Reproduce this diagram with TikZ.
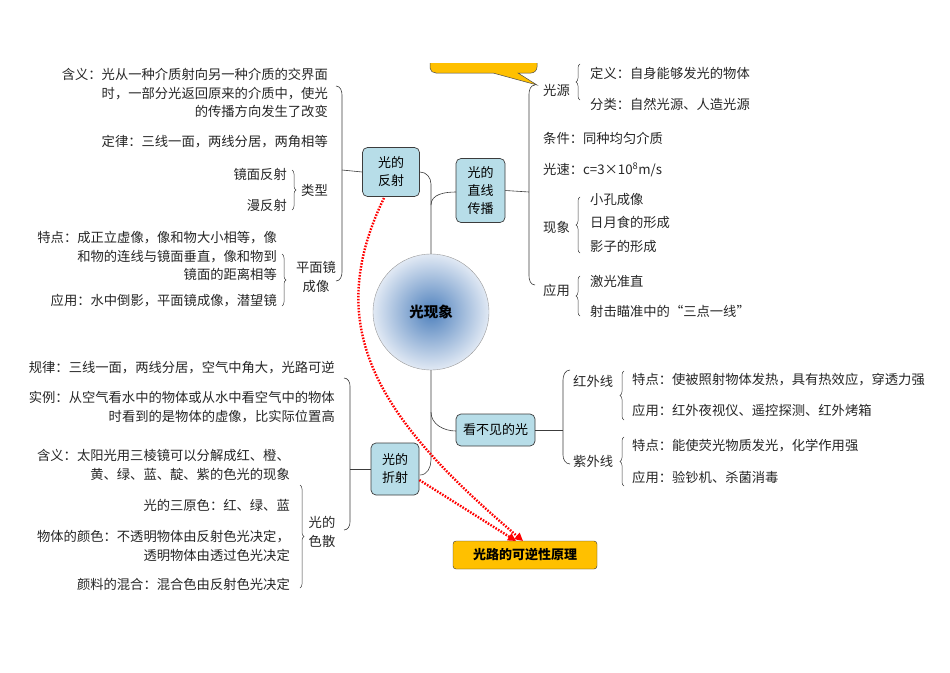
\documentclass[tikz,border=0pt]{standalone}
\usepackage{fontspec}
\setmainfont{Noto Sans CJK SC}
\usetikzlibrary{decorations.pathreplacing,arrows.meta}
\definecolor{boxblue}{RGB}{183,221,232}
\definecolor{gold}{RGB}{255,192,0}
\definecolor{lineg}{RGB}{60,60,60}
\tikzset{
  t/.style={font=\fontsize{13.3}{18.5}\selectfont,inner sep=0pt,text=black!85},
  tr/.style={t,anchor=east,align=right},
  tl/.style={t,anchor=west,align=left},
  topic/.style={draw=lineg,fill=boxblue,rounded corners=5pt,line width=0.7pt,font=\fontsize{13}{18}\selectfont,align=center,inner sep=2pt},
  conn/.style={draw=lineg,line width=0.6pt},
  br/.style={draw=lineg,line width=0.5pt,decorate,decoration={brace,amplitude=4pt}},
  redarr/.style={draw=red,line width=2.4pt,dash pattern=on 1.6pt off 1.4pt,-{Triangle[length=8pt,width=8pt]}},
}
\begin{document}
\begin{tikzpicture}[x=1pt,y=-1pt]
\useasboundingbox (0,0) rectangle (950,672);
% callout
\fill[gold,draw=black!70,line width=0.5pt] (430,63) -- (430,68) to[out=-90,in=180] (436,73) -- (493,73) -- (537,85) -- (518,73) -- (531,73) to[out=0,in=-90] (537,67) -- (537,63);
% center
\shade[inner color={rgb,255:red,79;green,129;blue,189},outer color={rgb,255:red,225;green,233;blue,244},draw=black!40] (431,312) circle (58);
\node[font=\fontsize{14.5}{16}\selectfont\bfseries] (center) at (431,312) {光现象};
\coordinate (ctop) at (431,254);
\coordinate (cbot) at (431,370);
% topics
\node[topic,minimum width=57pt,minimum height=49pt] (fs) at (391,172) {光的\\反射};
\node[topic,minimum width=49pt,minimum height=64pt] (zx) at (480.5,190.5) {光的\\直线\\传播};
\node[topic,minimum width=79pt,minimum height=32pt] (kb) at (495.5,430) {看不见的光};
\node[topic,minimum width=48pt,minimum height=52pt] (zs) at (395,469) {光的\\折射};
\node[draw=black!80,fill=gold,rounded corners=3pt,minimum width=144pt,minimum height=28pt,font=\fontsize{13}{14}\selectfont\bfseries] (kn) at (525,555) {光路的可逆性原理};
% trunk connectors
\draw[conn] (ctop) -- (431,205) to[out=90,in=180] (456,192);
\draw[conn] (431,205) -- (431,184) to[out=90,in=0] (420,172);
\draw[conn] (cbot) -- (431,412) to[out=-90,in=180] (456,431);
\draw[conn] (431,412) -- (431,460) to[out=-90,in=0] (420,475);
% reflection bracket
\draw[conn] (336,86) to[out=0,in=90] (342,95) -- (342,272) to[out=-90,in=0] (336,281);
\draw[conn] (342,170) -- (fs.west);
\node[tr] (r1) at (328,93) {含义：光从一种介质射向另一种介质的交界面\\时，一部分光返回原来的介质中，使光\\的传播方向发生了改变};
\node[tr] (r2) at (328,142) {定律：三线一面，两线分居，两角相等};
\node[tl] (lx) at (301,190) {类型};
\node[tr] (r3) at (287,174) {镜面反射};
\node[tr] (r4) at (287,205) {漫反射};
\draw[br] (292,170) -- (292,210);
\node[t,align=center] (pm) at (316,277) {平面镜\\成像};
\node[tr] (r5) at (277,256) {特点：成正立虚像，像和物大小相等，像\\和物的连线与镜面垂直，像和物到\\镜面的距离相等};
\node[tr] (r6) at (277,301) {应用：水中倒影，平面镜成像，潜望镜};
\draw[br] (282,254) -- (282,306);
% straight-line bracket
\draw[conn] (535,85) to[out=180,in=90] (529,94) -- (529,276) to[out=-90,in=180] (535,285);
\draw[conn] (zx.east) -- (529,192);
\node[tl] (gy) at (543,90) {光源};
\draw[br] (580,100) -- (580,64);
\node[tl] (d1) at (590,73) {定义：自身能够发光的物体};
\node[tl] (d2) at (590,104) {分类：自然光源、人造光源};
\node[tl] (tj) at (543,138) {条件：同种均匀介质};
\node[tl] (gs) at (543,170) {光速：c=3×10\textsuperscript{8}m/s};
\node[tl] (xx) at (543,227) {现象};
\draw[br] (580,253) -- (580,197);
\node[tl] (x1) at (590,199) {小孔成像};
\node[tl] (x2) at (590,222) {日月食的形成};
\node[tl] (x3) at (590,246) {影子的形成};
\node[tl] (yy) at (543,290) {应用};
\draw[br] (580,316) -- (580,276);
\node[tl] (y1) at (590,281) {激光准直};
\node[tl] (y2) at (590,311) {射击瞄准中的“三点一线”};
% invisible light
\draw[conn] (570,370) to[out=180,in=90] (563,380) -- (563,455) to[out=-90,in=180] (570,464);
\draw[conn] (kb.east) -- (563,430);
\node[tl] (hw) at (573,381) {红外线};
\draw[br] (624,420) -- (624,371);
\node[tl] (h1) at (632,380) {特点：使被照射物体发热，具有热效应，穿透力强};
\node[tl] (h2) at (632,410) {应用：红外夜视仪、遥控探测、红外烤箱};
\node[tl] (zw) at (573,461) {紫外线};
\draw[br] (624,486) -- (624,437);
\node[tl] (z1) at (632,446) {特点：能使荧光物质发光，化学作用强};
\node[tl] (z2) at (632,477) {应用：验钞机、杀菌消毒};
% refraction bracket
\draw[conn] (344,378) to[out=0,in=90] (350,386) -- (350,522) to[out=-90,in=0] (344,530);
\draw[conn] (350,469) -- (zs.west);
\node[tr] (s1) at (335,368) {规律：三线一面，两线分居，空气中角大，光路可逆};
\node[tr] (s2) at (335,407) {实例：从空气看水中的物体或从水中看空气中的物体\\时看到的是物体的虚像，比实际位置高};
\node[t,align=center] (ss) at (322,532) {光的\\色散};
\draw[br] (300,485) -- (300,588);
\node[tr] (c1) at (290,465) {含义：太阳光用三棱镜可以分解成红、橙、\\黄、绿、蓝、靛、紫的色光的现象};
\node[tr] (c2) at (290,505) {光的三原色：红、绿、蓝};
\node[tr] (c3) at (290,546) {物体的颜色：不透明物体由反射色光决定，\\透明物体由透过色光决定};
\node[tr] (c4) at (290,584) {颜料的混合：混合色由反射色光决定};
% red arrows
\draw[redarr] (384,198) .. controls (320,330) and (380,420) .. (523,541);
\draw[redarr] (zs.east |- 0,480) -- (516,541);
\end{tikzpicture}
\end{document}
